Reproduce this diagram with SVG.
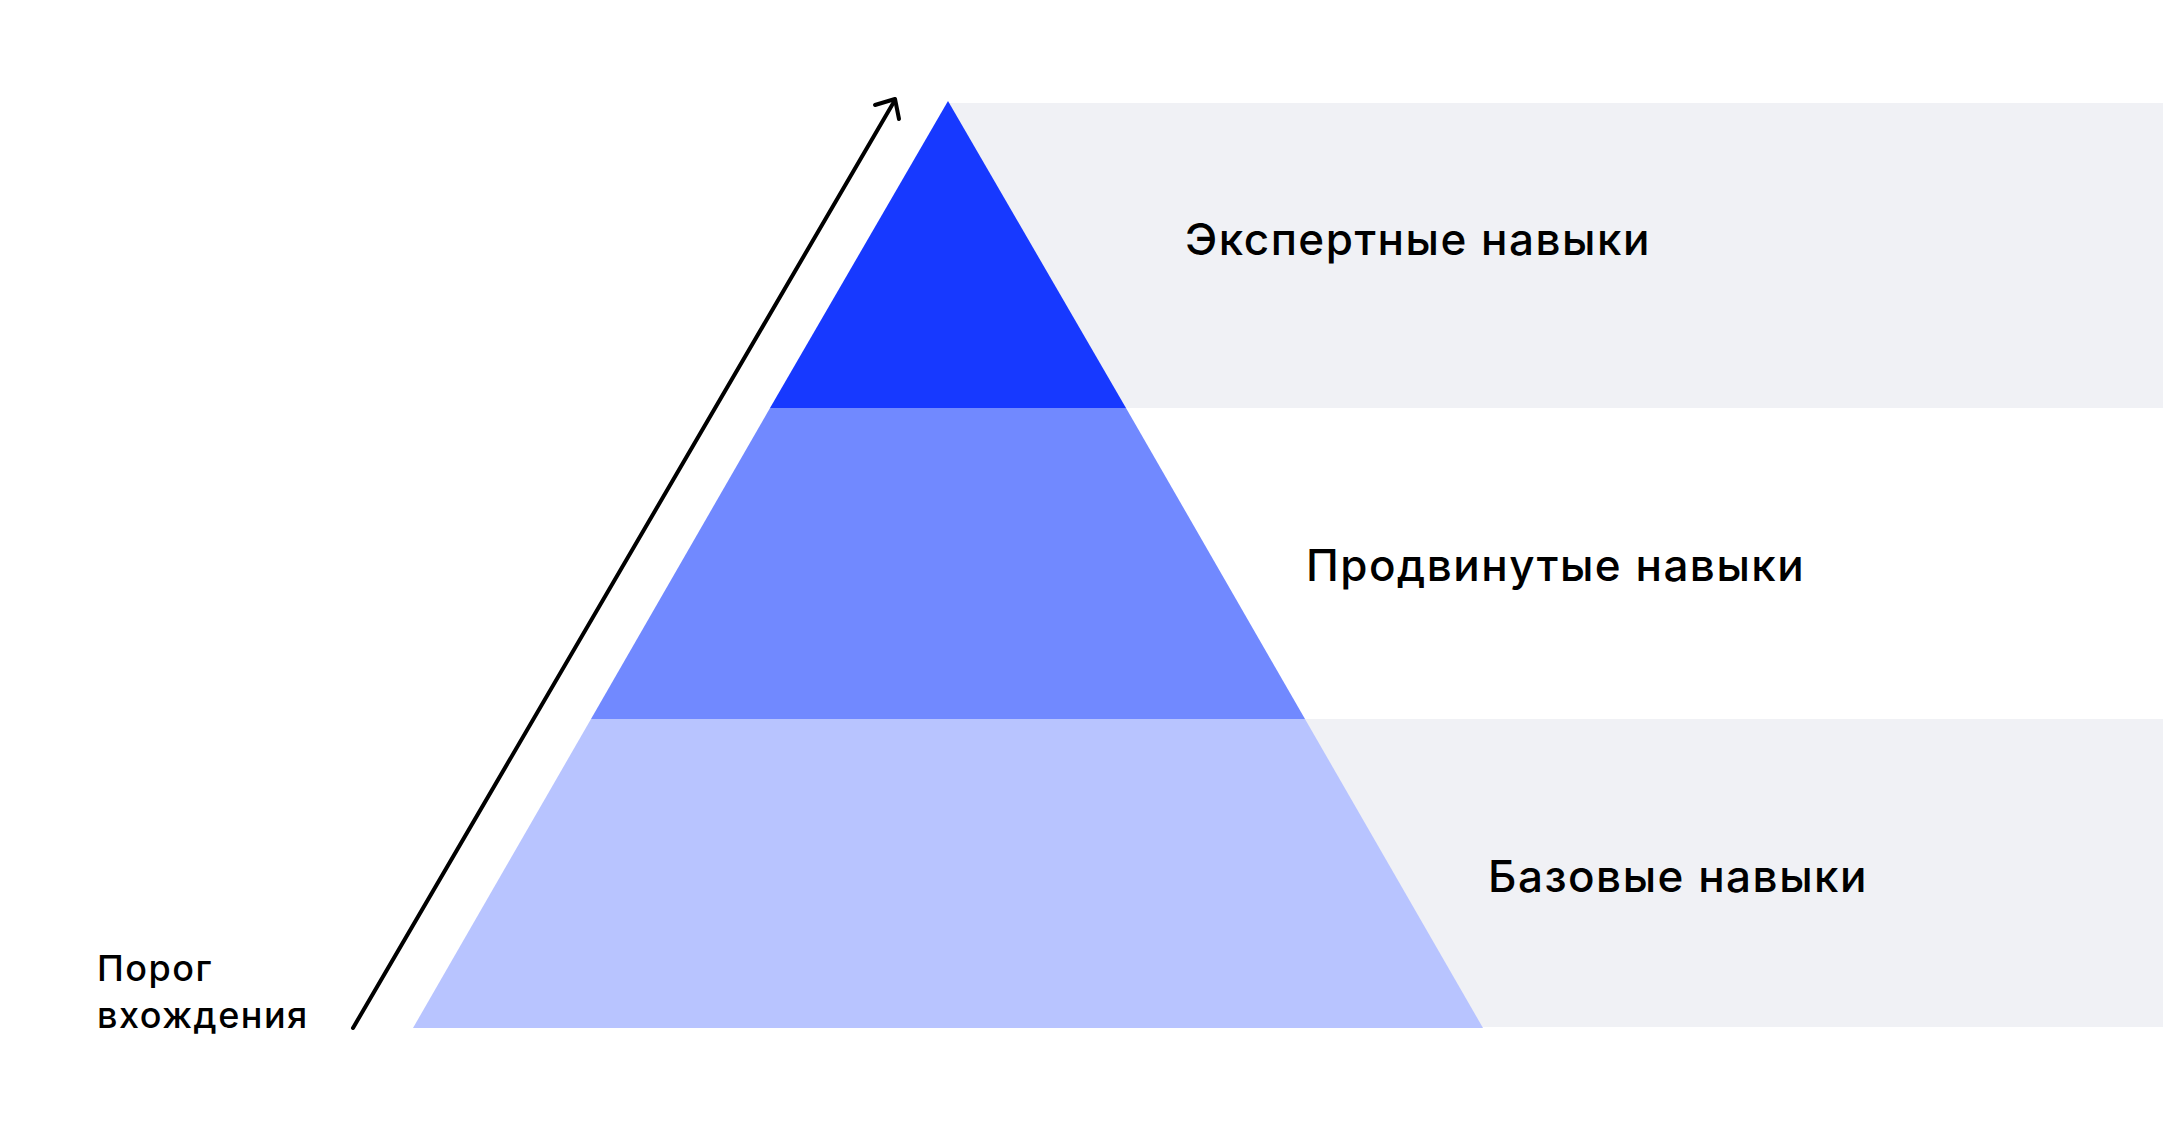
<svg xmlns="http://www.w3.org/2000/svg" width="2168" height="1132" viewBox="0 0 2168 1132">
<defs>
<style>
.band{fill:#F0F1F5}
.lbl{font-family:Inter,"Liberation Sans",sans-serif;font-size:44px;font-weight:500;letter-spacing:1.5px;fill:#000}
.small{font-family:Inter,"Liberation Sans",sans-serif;font-size:36px;font-weight:500;letter-spacing:1.5px;fill:#000}
.conn{stroke:#000;stroke-width:4;fill:none;stroke-linecap:round;stroke-linejoin:round}
</style>
</defs>
<rect width="2168" height="1132" fill="#FFFFFF"/>
<g id="bands">
<rect class="band" x="948" y="103" width="1215" height="305"/>
<rect class="band" x="1300" y="719" width="863" height="308"/>
</g>
<g id="tier-expert">
<polygon points="948,101 1126,408 770,408" fill="#1739FF"/>
<text class="lbl" x="1185" y="255">Экспертные навыки</text>
</g>
<g id="tier-advanced">
<polygon points="770,408 1126,408 1305,719 591,719" fill="#7189FF"/>
<text class="lbl" x="1306" y="581">Продвинутые навыки</text>
</g>
<g id="tier-basic">
<polygon points="591,719 1305,719 1483,1028 413,1028" fill="#B8C4FF"/>
<text class="lbl" x="1488" y="892">Базовые навыки</text>
</g>
<g id="entry-label">
<text class="small" x="97" y="981">Порог</text>
<text class="small" x="97" y="1028">вхождения</text>
</g>
<g id="connectors">
<path class="conn" d="M353,1028 L895,100"/>
<path class="conn" d="M875,105 L895,99 L899,119"/>
</g>
</svg>
